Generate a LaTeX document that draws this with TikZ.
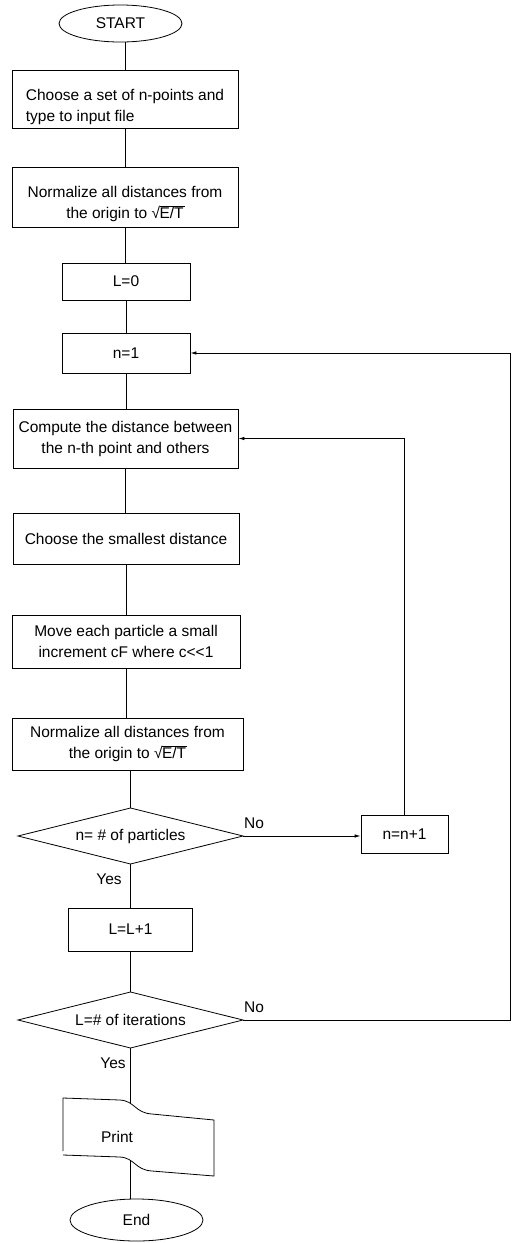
\documentclass[tikz,border=0pt]{standalone}
\usepackage{fontspec}
\setmainfont{Liberation Sans}
\usetikzlibrary{shapes.geometric,arrows.meta}
\newcommand{\sqET}{√\kern-0.5pt\rlap{\rule[12pt]{25pt}{0.6pt}}E/T}
\begin{document}
\begin{tikzpicture}[x=1pt,y=-1pt,
  every node/.style={font=\fontsize{15.5}{21}\selectfont, inner sep=0pt},
  box/.style={draw, rectangle, line width=0.8pt, align=center},
  term/.style={draw, ellipse, line width=0.8pt},
  conn/.style={line width=0.8pt},
  arr/.style={line width=0.8pt, -{Latex[length=6pt,width=3.5pt]}}]
\useasboundingbox (0,0) rectangle (515,1243);
\node[term, minimum width=123pt, minimum height=37pt] (start) at (120.5,23.5) {START};
\node[box, minimum width=226pt, minimum height=58pt, align=left] (b1) at (125,99) {\rule{0pt}{27pt}Choose a set of n-points and\\type to input file};
\node[box, minimum width=226pt, minimum height=60pt] (b2) at (125,197) {\rule{0pt}{25pt}Normalize all distances from\\the origin to \sqET};
\node[box, minimum width=128pt, minimum height=37pt] (l0) at (126,281.5) {L=0};
\node[box, minimum width=128pt, minimum height=40pt] (n1) at (126,353) {n=1};
\node[box, minimum width=225pt, minimum height=59pt] (comp) at (125.5,438.5) {Compute the distance between\\the n-th point and others};
\node[box, minimum width=226pt, minimum height=51pt] (small) at (126,538.5) {Choose the smallest distance};
\node[box, minimum width=228pt, minimum height=53pt] (move) at (126,641.5) {Move each particle a small\\increment cF where c{<}{<}1};
\node[box, minimum width=231pt, minimum height=52pt] (norm) at (127.5,744) {Normalize all distances from\\the origin to \sqET};
% decision 1
\node (d1) at (130.5,836) {n= \# of particles};
\coordinate (d1n) at (130.5,808);
\coordinate (d1s) at (130.5,864);
\coordinate (d1w) at (18,836);
\coordinate (d1e) at (243,836);
\draw[conn] (d1n) -- (d1e) -- (d1s) -- (d1w) -- cycle;
\node[box, minimum width=87pt, minimum height=38pt] (nn1) at (404.5,834) {n=n+1};
\node[box, minimum width=124pt, minimum height=43pt] (ll1) at (130.5,929.5) {L=L+1};
% decision 2
\node (d2) at (130.5,1020) {L=\# of iterations};
\coordinate (d2n) at (130.5,992);
\coordinate (d2s) at (130.5,1048);
\coordinate (d2w) at (18,1020);
\coordinate (d2e) at (243,1020);
\draw[conn] (d2n) -- (d2e) -- (d2s) -- (d2w) -- cycle;
\node (print) at (117,1137) {Print};
\node[term, minimum width=133pt, minimum height=42pt] (end) at (136.5,1220) {End};
\node (no1) at (254,823) {No};
\node (no2) at (254,1007) {No};
\node (yes1) at (109,879) {Yes};
\node (yes2) at (113,1063) {Yes};
% print (document) shape
\draw[conn] (63,1151) -- (63,1098) -- (120,1100) .. controls (135,1101) and (135,1113) .. (152,1114) -- (214,1120) -- (214,1176) -- (152,1171) .. controls (135,1170) and (135,1158) .. (120,1157) -- (63,1155);
\coordinate (ptop) at (130.5,1104);
\coordinate (pbot) at (130.5,1161);
\coordinate (lp) at (510,0);
% connectors
\draw[conn] (b1.north |- start.south) -- (b1.north);
\draw[conn] (b1.south) -- (b1.south |- b2.north);
\draw[conn] (b2.south) -- (b2.south |- l0.north);
\draw[conn] (l0.south) -- (n1.north);
\draw[conn] (n1.south) -- (n1.south |- comp.north);
\draw[conn] (comp.south) -- (comp.south |- small.north);
\draw[conn] (small.south) -- (move.north);
\draw[conn] (move.south) -- (move.south |- norm.north);
\draw[conn] (norm.south -| d1n) -- (d1n);
\draw[conn] (d1s) -- (ll1.north);
\draw[conn] (ll1.south) -- (d2n);
\draw[conn] (d2s) -- (ptop);
\draw[conn] (pbot) -- (pbot |- end.north);
\draw[arr] (d1e) -- (d1e -| nn1.west);
\draw[arr] (nn1.north) |- (comp.east);
\draw[arr] (d2e) -- (d2e -| lp) |- (n1.east);
\end{tikzpicture}
\end{document}
